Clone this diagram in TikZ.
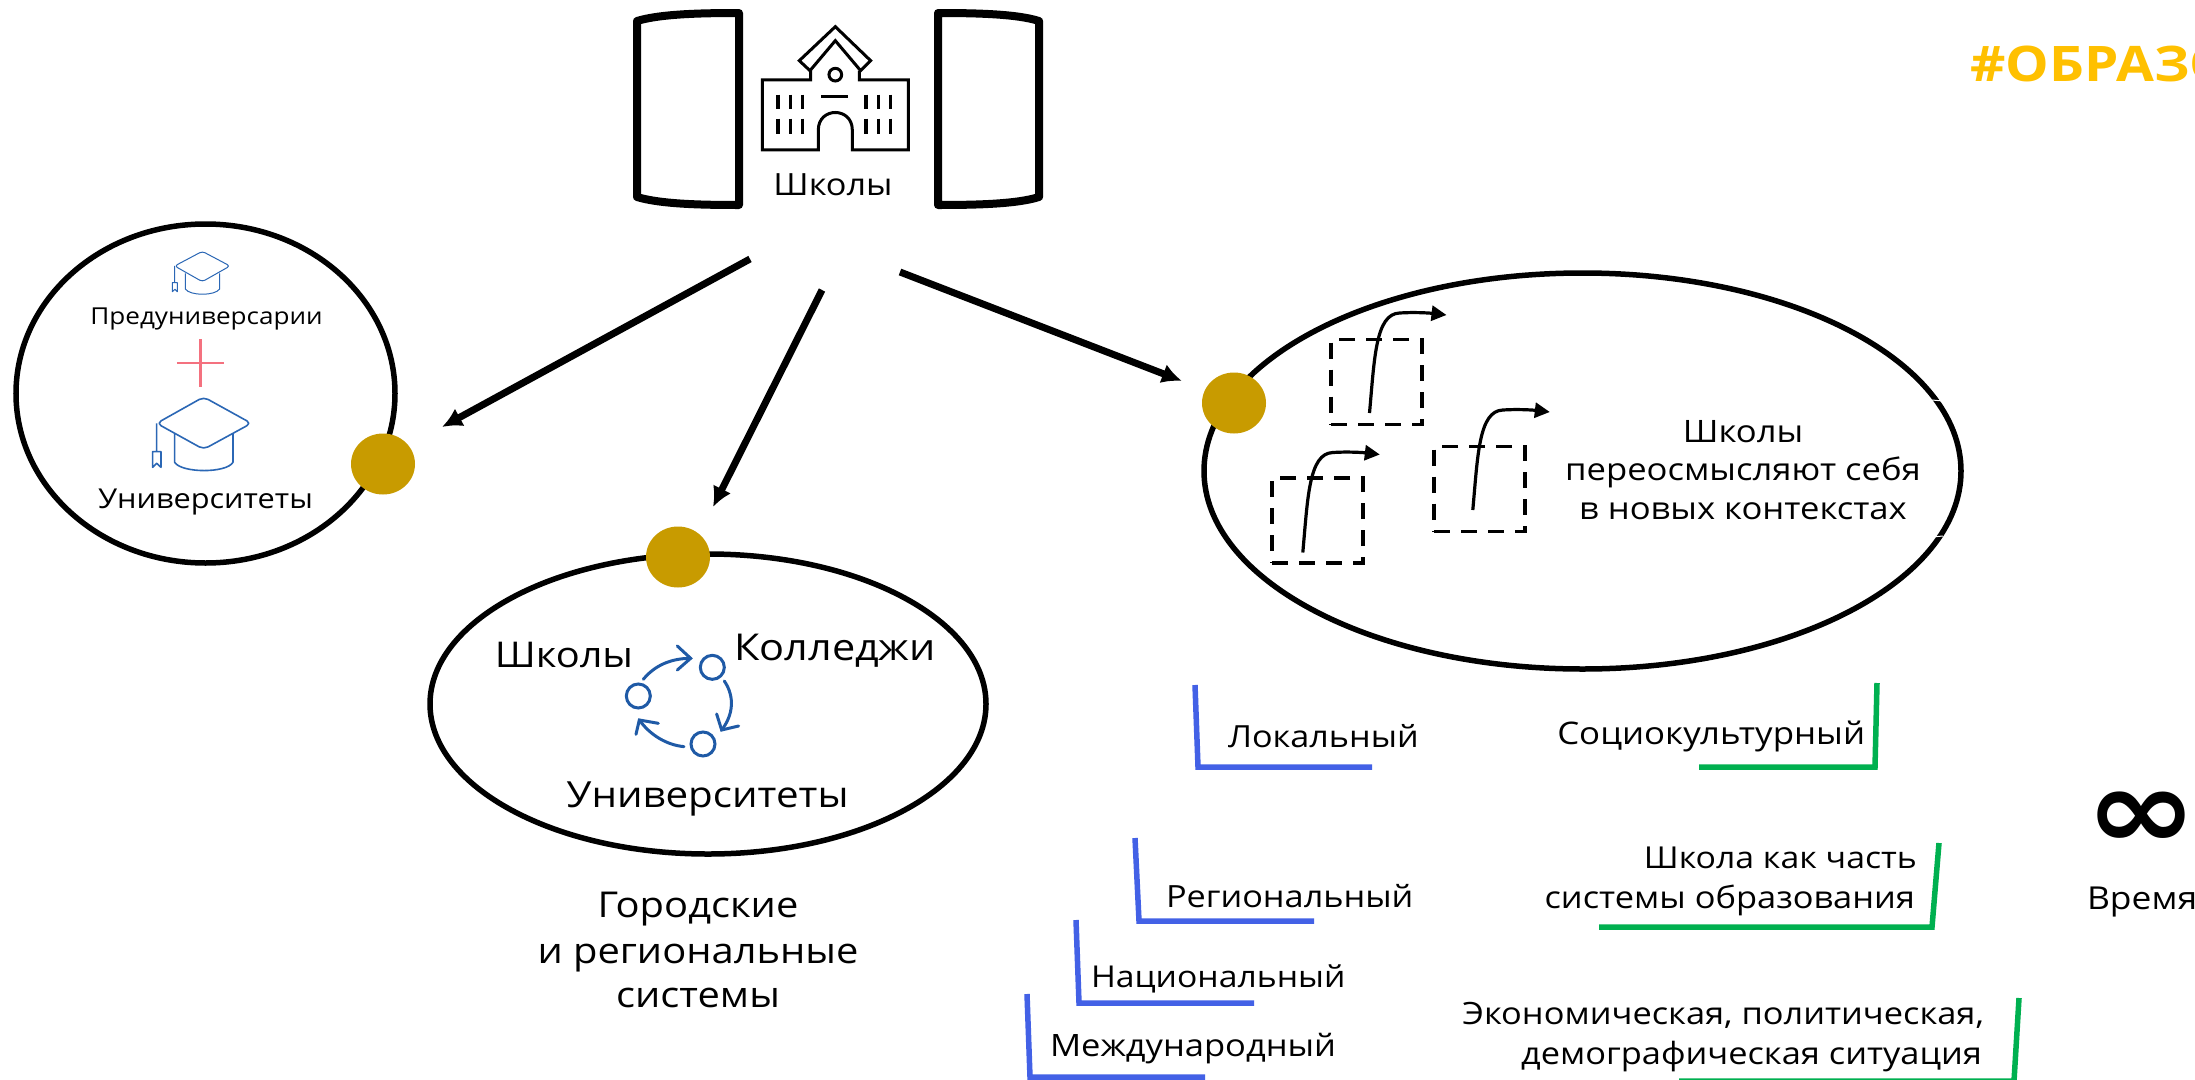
\documentclass[tikz,border=0pt]{standalone}
\usepackage{fontspec}
\setmainfont{Open Sans}[FakeStretch=1.12]
\newfontfamily\boldf{Open Sans}[FakeStretch=1.12,BoldFont={Open Sans Bold}]
\newfontfamily\symf{DejaVu Sans Bold}
\usetikzlibrary{arrows.meta,calc,shapes.geometric}
\definecolor{gold}{HTML}{C89B00}
\definecolor{blueln}{HTML}{4361E6}
\definecolor{greenln}{HTML}{00B050}
\definecolor{capblue}{HTML}{2B67B5}
\definecolor{cycblue}{HTML}{1F5AA6}
\definecolor{pinkln}{HTML}{F4717F}
\definecolor{tagyel}{HTML}{FFC000}
\tikzset{
  x=1pt,y=-1pt,
  ring/.style={draw=black,line width=5.5pt,fill=white,ellipse},
  golddot/.style={fill=gold,draw=none},
  bigarrow/.style={line width=7pt,-{Latex[length=20pt,width=20pt]},shorten >=0pt},
  door/.style={draw=black,line width=8pt,line join=round,fill=white},
  lab/.style={inner sep=0pt,outer sep=0pt,text=black},
  fs/.style={font=\fontsize{#1}{#1}\selectfont},
  bracketb/.style={draw=blueln,line width=5.5pt,miter limit=10},
  bracketg/.style={draw=greenln,line width=5.5pt},
  dbox/.style={draw=black,line width=3.6pt,dash pattern=on 16pt off 11pt,minimum width=91pt,minimum height=85pt,inner sep=0pt},
  growth/.style={draw=black,line width=3.2pt,-{Triangle[length=15pt,width=15pt]}},
  capln/.style={draw=capblue,line join=round},
  cyc/.style={draw=cycblue,line width=3pt},
  growthcurve/.pic={\draw[growth] (0,0) .. controls (5,-55) and (6,-99) .. (30,-100) .. controls (45,-101) and (60,-100) .. (77,-98);},
}
\begin{document}
\begin{tikzpicture}
\useasboundingbox (0,0) rectangle (2195,1079);
\clip (0,0) rectangle (2195,1079);
\fill[white] (0,0) rectangle (2195,1079);

% doors
\draw[door] (739,13) .. controls (700,13) and (660,14) .. (637,21) -- (637,197) .. controls (660,204) and (700,205) .. (739,205) -- cycle;
\draw[door] (938,13) .. controls (977,13) and (1017,14) .. (1039,21) -- (1039,197) .. controls (1017,204) and (977,205) .. (938,205) -- cycle;

% school icon (zoom units /3)
\begin{scope}[shift={(600,0)},x=0.3333pt,y=-0.3333pt,draw=black,line join=miter]
  \draw[line width=3pt] (706,80) -- (812,182) -- (782,212) -- (706,122) -- (630,212) -- (598,182) -- cycle;
  \draw[line width=3pt] (632,212) -- (632,240) -- (487,240) -- (487,450) -- (655,450) -- (655,390) .. controls (655,320) and (757,320) .. (757,390) -- (757,450) -- (925,450) -- (925,240) -- (778,240) -- (778,212);
  \draw[line width=3pt] (706,224) circle[radius=19];
  \draw[line width=3pt] (664,289) -- (744,289);
  \foreach \xx in {534,571,608,798,835,872}{
    \draw[line width=3.2pt] (\xx,284) -- (\xx,328);
    \draw[line width=3.2pt] (\xx,356) -- (\xx,402);
  }
\end{scope}
\node[lab,fs=30.6,anchor=base] (school) at (833,195) {Школы};

% ellipses
\node[ring,minimum width=379pt,minimum height=339pt,inner sep=0pt] (eleft) at (205.5,393.5) {};
\node[ring,minimum width=556pt,minimum height=300pt,inner sep=0pt] (emid) at (708,704) {};
\node[ring,minimum width=757pt,minimum height=396pt,inner sep=0pt] (eright) at (1582.5,471) {};
\draw[white,line width=1pt] (1932,400) -- (1943,401) (1932,537) -- (1943,536);

% gold dots
\node[golddot,ellipse,minimum width=64pt,minimum height=61pt,inner sep=0pt] (d1) at (383,464) {};
\node[golddot,ellipse,minimum width=64pt,minimum height=61pt,inner sep=0pt] (d2) at (678,557) {};
\node[golddot,ellipse,minimum width=64pt,minimum height=61pt,inner sep=0pt] (d3) at (1234,403) {};

% arrows
\coordinate (a1s) at (750,259); \coordinate (a1e) at (442,427);
\coordinate (a2s) at (822,290); \coordinate (a2e) at (713,507);
\coordinate (a3s) at (900,272); \coordinate (a3e) at (1182,381);
\draw[bigarrow] (a1s) -- (a1e);
\draw[bigarrow] (a2s) -- (a2e);
\draw[bigarrow] (a3s) -- (a3e);

% left ellipse content
\begin{scope}[shift={(0,210)},x=0.3333pt,y=-0.3333pt]
  \draw[capln,line width=1pt,rounded corners=3pt] (607,124) -- (690,168) -- (607,215) -- (524,168) -- cycle;
  \draw[capln,line width=1pt] (556,190) -- (556,237) .. controls (570,258) and (645,258) .. (659,237) -- (659,190);
  \draw[capln,line width=1pt] (524,168) -- (524,218) (517,218) -- (532,218) -- (532,245) -- (525,238) -- (517,245) -- cycle;
  \draw[capln,line width=1.6pt,rounded corners=5pt] (611,561) -- (754,640) -- (611,718) -- (470,640) -- cycle;
  \draw[capln,line width=1.6pt] (524,672) -- (524,757) .. controls (545,790) and (680,790) .. (699,757) -- (699,672);
  \draw[capln,line width=1.6pt] (470,640) -- (470,725) (458,725) -- (483,725) -- (483,772) -- (470,760) -- (458,772) -- cycle;
  \draw[draw=pinkln,line width=2.8pt] (531,459) -- (671,459) (601,388) -- (601,530);
\end{scope}
\node[lab,fs=23.3,anchor=base] (lpre) at (206.5,324) {Предуниверсарии};
\node[lab,fs=27.4,anchor=base] (luni) at (205.5,508) {Университеты};

% middle ellipse content
\begin{scope}[shift={(480,600)},x=0.3333pt,y=-0.3333pt]
  \draw[cyc] (697,202) circle[radius=36] (475,288) circle[radius=36] (669,432) circle[radius=36];
  \draw[cyc,line cap=round] (490,238) .. controls (525,195) and (575,175) .. (632,175);
  \draw[cyc,line cap=round] (592,138) -- (632,175) -- (592,210);
  \draw[cyc,line cap=round] (733,243) .. controls (765,290) and (760,345) .. (725,390);
  \draw[cyc,line cap=round] (710,342) -- (725,390) -- (776,378);
  \draw[cyc,line cap=round] (612,440) .. controls (560,435) and (510,405) .. (478,360);
  \draw[cyc,line cap=round] (468,403) -- (478,360) -- (535,370);
\end{scope}
\node[lab,fs=35.5,anchor=base] (mschool) at (564,667) {Школы};
\node[lab,fs=37,anchor=base] (mcol) at (835,660) {Колледжи};
\node[lab,fs=36,anchor=base] (muni) at (707.5,807) {Университеты};
\node[lab,fs=35.6,anchor=base] (gor) at (698,917) {Городские};
\node[lab,fs=35.6,anchor=base] (gor2) at (698,963) {и региональные};
\node[lab,fs=35.6,anchor=base] (gor3) at (698,1007) {системы};

% right ellipse content
\node[dbox] (b1) at (1376.5,382) {};
\node[dbox] (b2) at (1317.5,520.5) {};
\node[dbox] (b3) at (1479.5,489) {};
\pic at ($(b1.center)+(-7,31)$) {growthcurve};
\pic at ($(b2.center)+(-14.7,32)$) {growthcurve};
\pic at ($(b3.center)+(-6.7,21)$) {growthcurve};
\node[lab,fs=30.9,anchor=base] (t1) at (1743,442) {Школы};
\node[lab,fs=30.9,anchor=base] (t2) at (1743,480) {переосмысляют себя};
\node[lab,fs=30.9,anchor=base] (t3) at (1743,519) {в новых контекстах};

% brackets
\draw[bracketb] (1195,685) -- (1198,767) -- (1372,767);
\draw[bracketb] (1135,838) -- (1139,921) -- (1314,921);
\draw[bracketb] (1076,920) -- (1079,1003) -- (1254,1003);
\draw[bracketb] (1027,994) -- (1030,1077) -- (1205,1077);
\draw[bracketg] (1877,683) -- (1875,767) -- (1699,767);
\draw[bracketg] (1939,843) -- (1932,927) -- (1599,927);
\draw[bracketg] (2019,998) -- (2014,1081) -- (1679,1081);

\node[lab,fs=30.5,anchor=base west] (l1) at (1228,747) {Локальный};
\node[lab,fs=30.6,anchor=base west] (l2) at (1166,907) {Региональный};
\node[lab,fs=30.1,anchor=base west] (l3) at (1091,987) {Национальный};
\node[lab,fs=30.8,anchor=base west] (l4) at (1050,1056.5) {Международный};
\node[lab,fs=31.1,anchor=base east] (r1) at (1865,744.5) {Социокультурный};
\node[lab,fs=30.2,anchor=base east] (r2) at (1917,868.5) {Школа как часть};
\node[lab,fs=30.7,anchor=base east] (r3) at (1915,908.5) {системы образования};
\node[lab,fs=30.7,anchor=base east] (r4) at (1984,1024.5) {Экономическая, политическая,};
\node[lab,fs=30.7,anchor=base east] (r5) at (1982,1064.5) {демографическая ситуация};

% top-right and time
\node[inner sep=0pt,anchor=base west,text=tagyel,font=\boldf\bfseries\fontsize{49}{49}\selectfont] (tag) at (1970,81) {\#ОБРАЗО};
\node[inner sep=0pt,text=black,font=\symf\fontsize{112}{112}\selectfont] (inf) at (2141,820) {\scalebox{1.2}[1]{∞}};
\node[lab,fs=31.6,anchor=base west] (time) at (2087,909) {Время};
\end{tikzpicture}
\end{document}
